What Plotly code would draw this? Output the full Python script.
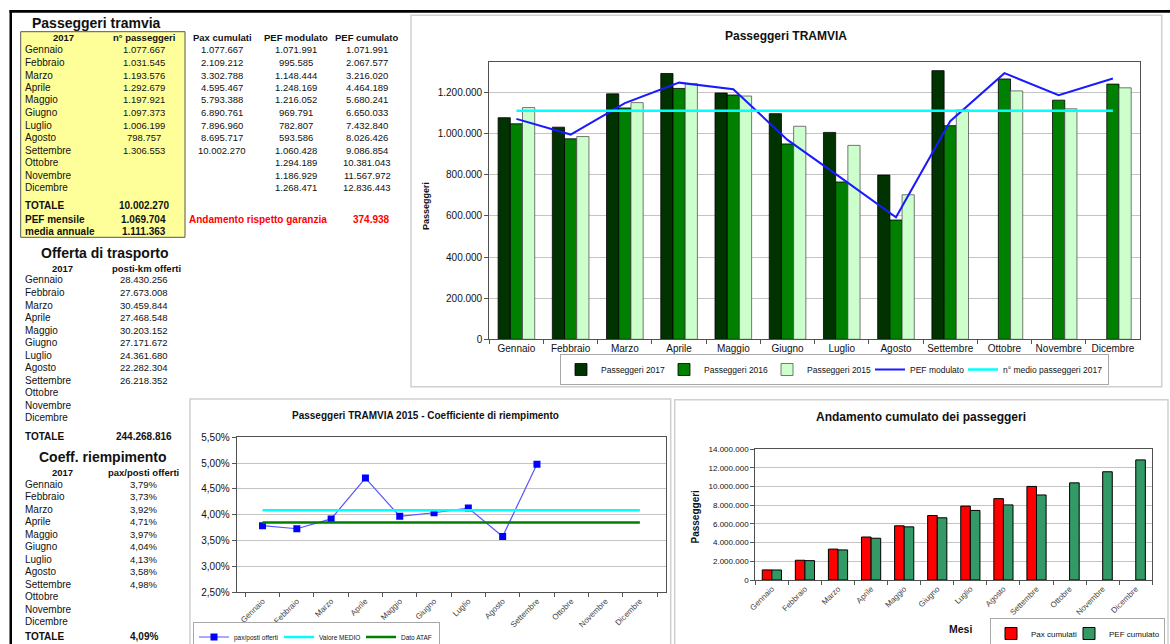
import plotly.graph_objects as go

W, H = 1170, 644
FONT = "Liberation Sans, Arial, sans-serif"

# ---- data ----
months = ["Gennaio", "Febbraio", "Marzo", "Aprile", "Maggio", "Giugno",
          "Luglio", "Agosto", "Settembre", "Ottobre", "Novembre", "Dicembre"]

pax_2017 = [1077667, 1031545, 1193576, 1292679, 1197921, 1097373,
            1006199, 798757, 1306553, None, None, None]
pax_2016 = [1048000, 975000, 1125000, 1220000, 1188000, 950000,
            765000, 580000, 1039000, 1266000, 1163000, 1241000]
pax_2015 = [1127000, 986000, 1151000, 1243000, 1183000, 1036000,
            943000, 703000, 1115000, 1208000, 1121000, 1223000]
pax_cumulati = [1077667, 2109212, 3302788, 4595467, 5793388, 6890761,
                7896960, 8695717, 10002270, None, None, None]
pef_modulato = [1071991, 995585, 1148444, 1248169, 1216052, 969791,
                782807, 593586, 1060428, 1294189, 1186929, 1268471]
pef_cumulato = [1071991, 2067577, 3216020, 4464189, 5680241, 6650033,
                7432840, 8026426, 9086854, 10381043, 11567972, 12836443]
posti_km = [28430256, 27673008, 30459844, 27468548, 30203152, 27171672,
            24361680, 22282304, 26218352, None, None, None]
coeff_pct = [3.79, 3.73, 3.92, 4.71, 3.97, 4.04, 4.13, 3.58, 4.98,
             None, None, None]

totale_pax = 10002270
pef_mensile = 1069704
media_annuale = 1111363
garanzia = 374938
totale_posti = 244268816
coeff_medio_pct = 4.09
dato_ataf_pct = 3.85


# ---- helpers ----
def fx(x):
    return x / W


def fy(y):
    return 1 - y / H


def it_int(v):
    return "" if v is None else f"{v:,}".replace(",", ".")


def it_pct(v):
    return "" if v is None else f"{v:.2f}%".replace(".", ",")


annotations = []


def text(x, y, s, size=10, bold=False, anchor="left", color="#111111", angle=0):
    annotations.append(dict(
        x=fx(x), y=fy(y), xref="paper", yref="paper", showarrow=False,
        text=f"<b>{s}</b>" if bold else s, xanchor=anchor, yanchor="middle",
        textangle=angle, font=dict(family=FONT, size=size, color=color)))


fig = go.Figure()

# ---- main chart: monthly passengers ----
bar_specs = [
    ("Passeggeri 2017", pax_2017, "#003300", "#000000", -0.3375),
    ("Passeggeri 2016", pax_2016, "#008000", "#000000", -0.1125),
    ("Passeggeri 2015", pax_2015, "#ccffcc", "#555555", 0.1125),
]
for name, vals, color, edge, off in bar_specs:
    fig.add_trace(go.Bar(
        x=months, y=vals, name=name, width=0.225, offset=off,
        marker=dict(color=color, line=dict(color=edge, width=0.8)),
        xaxis="x", yaxis="y", legend="legend", legendwidth=58))
fig.add_trace(go.Scatter(
    x=months, y=pef_modulato, mode="lines", name="PEF modulato",
    line=dict(color="#1a1aff", width=2), xaxis="x", yaxis="y",
    legend="legend", legendwidth=48))
fig.add_trace(go.Scatter(
    x=[months[0], months[-1]], y=[media_annuale, media_annuale], mode="lines",
    name="n° medio passeggeri 2017", line=dict(color="#00ffff", width=2.5),
    xaxis="x", yaxis="y", legend="legend", legendwidth=100))

# ---- filling coefficient chart ----
fig.add_trace(go.Scatter(
    x=months, y=[None if c is None else c / 100 for c in coeff_pct],
    mode="lines+markers", name="pax/posti offerti",
    line=dict(color="#5555ff", width=1.2),
    marker=dict(symbol="square", size=7, color="#0000ff"),
    xaxis="x2", yaxis="y2", legend="legend2", legendwidth=40))
fig.add_trace(go.Scatter(
    x=[months[0], months[-1]], y=[coeff_medio_pct / 100] * 2, mode="lines",
    name="Valore MEDIO", line=dict(color="#00ffff", width=2.5),
    xaxis="x2", yaxis="y2", legend="legend2", legendwidth=37))
fig.add_trace(go.Scatter(
    x=[months[0], months[-1]], y=[dato_ataf_pct / 100] * 2, mode="lines",
    name="Dato ATAF", line=dict(color="#008000", width=2.5),
    xaxis="x2", yaxis="y2", legend="legend2", legendwidth=33))

# ---- cumulative chart ----
fig.add_trace(go.Bar(
    x=months, y=pax_cumulati, name="Pax cumulati", width=0.29, offset=-0.29,
    marker=dict(color="#ff0000", line=dict(color="#000000", width=1)),
    xaxis="x3", yaxis="y3", legend="legend3", legendwidth=33))
fig.add_trace(go.Bar(
    x=months, y=pef_cumulato, name="PEF cumulato", width=0.29, offset=0.0,
    marker=dict(color="#339966", line=dict(color="#000000", width=1)),
    xaxis="x3", yaxis="y3", legend="legend3", legendwidth=50))


def cat_axis(x0, x1, anchor, size, angle=0, color="#111111"):
    return dict(domain=[fx(x0), fx(x1)], anchor=anchor, type="category",
                categoryorder="array", categoryarray=months,
                tickson="boundaries", ticks="outside", ticklen=4,
                tickcolor="#555555", showgrid=False, showline=True,
                linecolor="#505050", linewidth=1.2, mirror=True,
                tickangle=angle, fixedrange=True,
                tickfont=dict(family=FONT, size=size, color=color))


def val_axis(y0, y1, anchor, rng, dtick, fmt, size, grid="#c4c4c4"):
    return dict(domain=[fy(y1), fy(y0)], anchor=anchor, range=rng,
                tick0=rng[0], dtick=dtick, tickformat=fmt, showgrid=True,
                gridcolor=grid, gridwidth=1, zeroline=False, showline=True,
                linecolor="#505050", linewidth=1.2, mirror=True,
                ticks="outside", ticklen=4, tickcolor="#555555",
                fixedrange=True,
                tickfont=dict(family=FONT, size=size, color="#111111"))


# ---- left tables ----
text(96, 23, "Passeggeri tramvia", size=14, bold=True, anchor="center")
text(63, 38, "2017", size=9.5, bold=True, anchor="center")
text(143.5, 38, "n° passeggeri", size=9.5, bold=True, anchor="center")
text(222, 38, "Pax cumulati", size=9.5, bold=True, anchor="center")
text(296, 38, "PEF modulato", size=9.5, bold=True, anchor="center")
text(367, 38, "PEF cumulato", size=9.5, bold=True, anchor="center")
for i, m in enumerate(months):
    y = 50 + 12.5 * i
    text(22.5, y, m, size=10)
    text(143.5, y, it_int(pax_2017[i]), size=9.5, anchor="center")
    text(222, y, it_int(pax_cumulati[i]), size=9.5, anchor="center")
    text(296, y, it_int(pef_modulato[i]), size=9.5, anchor="center")
    text(367, y, it_int(pef_cumulato[i]), size=9.5, anchor="center")
text(22.5, 205.5, "TOTALE", size=10, bold=True)
text(143.5, 205.5, it_int(totale_pax), size=10, bold=True, anchor="center")
text(22.5, 219, "PEF mensile", size=10, bold=True)
text(143.5, 219, it_int(pef_mensile), size=10, bold=True, anchor="center")
text(22.5, 231.5, "media annuale", size=10, bold=True)
text(143.5, 231.5, it_int(media_annuale), size=10, bold=True, anchor="center")
text(187, 219, "Andamento rispetto garanzia", size=10, bold=True, color="#ff0000")
text(371, 219, it_int(garanzia), size=10, bold=True, anchor="center", color="#ff0000")

text(105, 253.5, "Offerta di trasporto", size=14, bold=True, anchor="center")
text(62, 268.5, "2017", size=9.5, bold=True, anchor="center")
text(146, 268.5, "posti-km offerti", size=9.5, bold=True, anchor="center")
for i, m in enumerate(months):
    y = 280 + 12.5 * i
    text(23, y, m, size=10)
    text(144, y, it_int(posti_km[i]), size=9.5, anchor="center")
text(23, 436.5, "TOTALE", size=10, bold=True)
text(144, 436.5, it_int(totale_posti), size=10, bold=True, anchor="center")

text(103, 456.5, "Coeff. riempimento", size=14, bold=True, anchor="center")
text(62, 472.5, "2017", size=9.5, bold=True, anchor="center")
text(143.5, 472.5, "pax/posti offerti", size=9.5, bold=True, anchor="center")
for i, m in enumerate(months):
    y = 484.3 + 12.5 * i
    text(23, y, m, size=10)
    text(143.5, y, it_pct(coeff_pct[i]), size=9.5, anchor="center")
text(23, 636.5, "TOTALE", size=10, bold=True)
text(143.5, 636.5, it_pct(coeff_medio_pct), size=10, bold=True, anchor="center")

# ---- chart titles and axis titles ----
text(786, 36, "Passeggeri TRAMVIA", size=12, bold=True, anchor="center")
text(425.5, 206.5, "Passeggeri", size=9, bold=True, anchor="center", angle=-90)
text(425.5, 415, "Passeggeri TRAMVIA 2015 - Coefficiente di riempimento",
     size=10, bold=True, anchor="center")
text(920.5, 416.5, "Andamento cumulato dei passeggeri", size=12, bold=True,
     anchor="center")
text(695, 516.5, "Passeggeri", size=10, bold=True, anchor="center", angle=-90)
text(960, 629, "Mesi", size=10.5, bold=True, anchor="center")

# ---- frames ----
shapes = [
    dict(type="rect", xref="paper", yref="paper", x0=fx(20.7), x1=fx(185),
         y0=fy(237.3), y1=fy(31.7), fillcolor="#ffff99",
         line=dict(color="#555555", width=1), layer="below"),
    dict(type="rect", xref="paper", yref="paper", x0=fx(411), x1=fx(1161.7),
         y0=fy(386.7), y1=fy(15.3), line=dict(color="#cfcfcf", width=1.5)),
    dict(type="rect", xref="paper", yref="paper", x0=fx(190), x1=fx(670.7),
         y0=fy(650), y1=fy(399), line=dict(color="#cfcfcf", width=1.5)),
    dict(type="rect", xref="paper", yref="paper", x0=fx(674.7), x1=fx(1168),
         y0=fy(650), y1=fy(399.7), line=dict(color="#cfcfcf", width=1.5)),
    dict(type="rect", xref="paper", yref="paper", x0=fx(9.5), x1=fx(1172),
         y0=fy(12.7), y1=fy(10), fillcolor="#000000", line=dict(width=0)),
    dict(type="rect", xref="paper", yref="paper", x0=fx(9.5), x1=fx(12),
         y0=fy(650), y1=fy(10), fillcolor="#000000", line=dict(width=0)),
]

legend_common = dict(orientation="h", xanchor="left", yanchor="top",
                     bgcolor="#ffffff", bordercolor="#a8a8a8", borderwidth=1,
                     traceorder="normal", itemwidth=30)

fig.update_layout(
    width=W, height=H, autosize=False,
    margin=dict(l=0, r=0, t=0, b=0, pad=0, autoexpand=False),
    paper_bgcolor="#ffffff", plot_bgcolor="#ffffff",
    separators=",.",
    barmode="group",
    font=dict(family=FONT, color="#111111"),
    hovermode=False,
    xaxis=cat_axis(489.3, 1140, "y", 10),
    yaxis=val_axis(61.7, 339.3, "x", [0, 1350000], 200000, ",d", 10),
    xaxis2=cat_axis(236.7, 665.7, "y2", 8, angle=-45, color="#444444"),
    yaxis2=val_axis(437.3, 592.3, "x2", [0.025, 0.055], 0.005, ".2%", 10),
    xaxis3=cat_axis(755.3, 1152.3, "y3", 8, angle=-45, color="#444444"),
    yaxis3=val_axis(449, 580, "x3", [0, 14000000], 2000000, ",d", 8),
    legend=dict(x=fx(560), y=fy(354), font=dict(family=FONT, size=8.5),
                **legend_common),
    legend2=dict(x=fx(193), y=fy(621.5), font=dict(family=FONT, size=6.5),
                 **legend_common),
    legend3=dict(x=fx(990), y=fy(618), font=dict(family=FONT, size=8),
                 **legend_common),
    annotations=annotations,
    shapes=shapes,
)

fig.write_html("out.html")
